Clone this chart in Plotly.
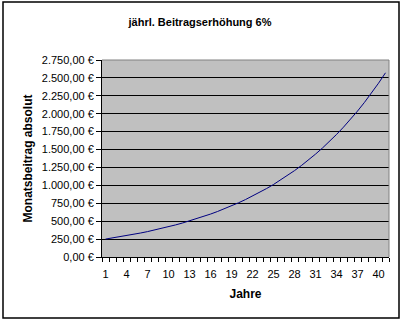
import plotly.graph_objects as go

years = list(range(1, 42))
beitrag = [250.00, 265.00, 280.90, 297.75, 315.62, 334.56, 354.63, 375.91, 398.46, 422.37,
           447.71, 474.57, 503.05, 533.23, 565.22, 599.14, 635.08, 673.19, 713.58, 756.39,
           801.78, 849.88, 900.88, 954.93, 1012.23, 1072.96, 1137.34, 1205.58, 1277.91, 1354.59,
           1435.87, 1522.02, 1613.34, 1710.14, 1812.75, 1921.51, 2036.80, 2159.01, 2288.55, 2425.86,
           2571.43]
x_ticks = list(range(1, 42, 3))
y_ticks = list(range(0, 2751, 250))
y_ticktext = ["0,00 €", "250,00 €", "500,00 €", "750,00 €", "1.000,00 €", "1.250,00 €",
              "1.500,00 €", "1.750,00 €", "2.000,00 €", "2.250,00 €", "2.500,00 €", "2.750,00 €"]

W, H = 405, 322
L, R, T, B = 102, 16, 60, 65
pw, ph = W - L - R, H - T - B

fig = go.Figure()
fig.add_trace(go.Scatter(x=years, y=beitrag, mode="lines",
                         line=dict(color="#000080", width=1), hoverinfo="skip"))

font = "Liberation Sans, Arial, sans-serif"
fig.update_layout(
    width=W, height=H,
    margin=dict(l=L, r=R, t=T, b=B),
    paper_bgcolor="white", plot_bgcolor="#C0C0C0",
    showlegend=False,
    font=dict(family=font, size=11, color="black"),
    title=dict(text="<b>jährl. Beitragserhöhung 6%</b>", x=(200 / W), xanchor="center",
               y=1 - 22 / H, yanchor="middle", font=dict(size=11, family=font)),
    xaxis=dict(range=[0.5, 41.5], tickmode="array", tickvals=x_ticks,
               ticktext=[str(v) for v in x_ticks], ticks="", showgrid=False,
               zeroline=False, showline=True, linecolor="black", linewidth=1,
               ticklabelstandoff=7, tickfont=dict(size=11),
               minor=dict(ticks="outside", ticklen=4, tickcolor="black", tick0=0.5, dtick=1,
                          showgrid=False),
               title=dict(text="<b>Jahre</b>", font=dict(size=12), standoff=10)),
    yaxis=dict(range=[0, 2750], tickmode="array", tickvals=y_ticks, ticktext=y_ticktext,
               ticks="outside", ticklen=5, tickcolor="black", showgrid=True,
               tickfont=dict(size=11),
               gridcolor="black", gridwidth=1, zeroline=False, showline=True,
               linecolor="black", linewidth=1,
               title=dict(text="<b>Monatsbeitrag absolut</b>", font=dict(size=12), standoff=6)),
)

# gray top and right plot-area border
fig.add_shape(type="line", xref="paper", yref="paper", x0=0, x1=1, y0=1, y1=1,
              line=dict(color="#808080", width=1))
fig.add_shape(type="line", xref="paper", yref="paper", x0=1, x1=1, y0=0, y1=1,
              line=dict(color="#808080", width=1))
# outer chart border
fig.add_shape(type="rect", xref="paper", yref="paper",
              x0=(3 - L) / pw, x1=(399 - L) / pw,
              y0=(H - B - 318) / ph, y1=(H - B - 2) / ph,
              line=dict(color="black", width=1.5), fillcolor="rgba(0,0,0,0)")

fig.write_html("out.html")
